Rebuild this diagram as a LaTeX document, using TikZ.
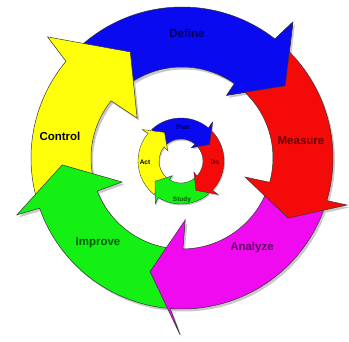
\documentclass[tikz,border=0pt]{standalone}
\usepackage{fontspec}
\setmainfont{Liberation Sans}
\definecolor{cblue}{HTML}{0A0AF0}
\definecolor{cred}{HTML}{F50A0A}
\definecolor{cmag}{HTML}{F00AF0}
\definecolor{cgreen}{HTML}{14F014}
\definecolor{cyellow}{HTML}{FFFF0A}
\definecolor{tblue}{HTML}{00005A}
\definecolor{tred}{HTML}{6A0000}
\definecolor{tmag}{HTML}{600060}
\definecolor{tgreen}{HTML}{005A00}
\definecolor{shad}{HTML}{C8C8C8}
% big ring: R = 151, r = 91
\newcommand\bluearr{(135:151pt) arc[start angle=135,end angle=52,radius=151pt] -- (50.8:175.5pt) -- (35:126pt) -- (54.5:77pt) -- (54.8:91pt) arc[start angle=54.8,end angle=135,radius=91pt] -- cycle}
\newcommand\bluehead{(52:151pt) -- (50.8:175.5pt) -- (35:126pt) -- (54.5:77pt) -- (54.8:91pt)}
\newcommand\redarr{(50.5:151pt) arc[start angle=50.5,end angle=-16.4,radius=151pt] -- (-15.9:171.6pt) -- (-29.5:122pt) -- (-16.8:66pt) -- (-15.5:91pt) arc[start angle=-15.5,end angle=50.5,radius=91pt] -- cycle}
\newcommand\magarr{(-19:151pt) arc[start angle=-19,end angle=-94.5,radius=151pt] -- (-90.6:177pt) -- (-105.7:118pt) -- (-87:62pt) -- (-89.4:91pt) arc[start angle=-89.4,end angle=-19,radius=91pt] -- cycle}
\newcommand\greenarr{(267:151pt) arc[start angle=267,end angle=199.4,radius=151pt] -- (199:174.6pt) -- (183.3:120pt) -- (201.8:64.6pt) -- (201.3:91pt) arc[start angle=201.3,end angle=267,radius=91pt] -- cycle}
\newcommand\yellowarr{(196:151pt) arc[start angle=196,end angle=140.2,radius=151pt] -- (138:181pt) -- (116:118pt) -- (138.4:60pt) -- (141.1:91pt) arc[start angle=141.1,end angle=196,radius=91pt] -- cycle}
% small ring: R = 43, r = 22
\newcommand\smallarr[2]{(#1:43pt) arc[start angle=#1,end angle=#2,radius=43pt] -- ({#2+1}:50pt) -- ({#2-20}:33pt) -- ({#2+2}:17pt) -- (#2:22pt) arc[start angle=#2,end angle=#1,radius=22pt] -- cycle}
\newcommand\smallhead[1]{(#1:43pt) -- ({#1+1}:50pt) -- ({#1-20}:33pt) -- ({#1+2}:17pt) -- (#1:22pt)}
\begin{document}
\begin{tikzpicture}[x=1pt,y=1pt,
  outl/.style={draw=black!80,line width=0.5pt,line join=miter},
  soutl/.style={draw=black!80,line width=0.35pt,line join=miter},
  biglab/.style={font=\fontsize{11.5}{12}\selectfont\bfseries,inner sep=0pt},
  smalllab/.style={font=\fontsize{6.5}{7}\selectfont\bfseries,inner sep=0pt}]
\useasboundingbox (-182,-183) rectangle (167,158);
\fill[white] (-182,-183) rectangle (167,158);
% shadows
\begin{scope}[shift={(2pt,-2.5pt)}]
\fill[shad] \bluearr; \fill[shad] \redarr; \fill[shad] \magarr;
\fill[shad] \greenarr; \fill[shad] \yellowarr;
\end{scope}
% big ring arrows
\fill[cblue,outl] \bluearr;
\fill[cyellow,outl] \yellowarr;
\fill[cgreen,outl] \greenarr;
\fill[cmag,outl] \magarr;
\fill[cred,outl] \redarr;
\fill[cblue] \bluehead -- cycle;
\draw[outl] \bluehead;
% small ring
\begin{scope}[shift={(-1pt,-3pt)}]
\begin{scope}[shift={(1pt,-1.5pt)}]
\fill[shad] \smallarr{133}{50}; \fill[shad] \smallarr{43}{-43};
\fill[shad] \smallarr{-50}{-122}; \fill[shad] \smallarr{231}{140};
\end{scope}
\fill[cblue,soutl] \smallarr{133}{50};
\fill[cyellow,soutl] \smallarr{231}{140};
\fill[cgreen,soutl] \smallarr{-50}{-122};
\fill[cred,soutl] \smallarr{43}{-43};
\fill[cblue] \smallhead{50} -- cycle;
\draw[soutl] \smallhead{50};
\end{scope}
% labels
\node[biglab,text=tblue] (define) at (5,125) {Define};
\node[biglab,text=tred] (measure) at (119,17) {Measure};
\node[biglab,text=tmag] (analyze) at (70,-90) {Analyze};
\node[biglab,text=tgreen] (improve) at (-84,-85) {Improve};
\node[biglab,text=black] (control) at (-122,22) {Control};
\node[smalllab,text=tblue] (plan) at (1,31) {Plan};
\node[smalllab,text=tred] (do) at (33,-4) {Do};
\node[smalllab,text=tgreen] (study) at (0,-42) {Study};
\node[smalllab,text=black] (act) at (-37,-4) {Act};
\end{tikzpicture}
\end{document}
